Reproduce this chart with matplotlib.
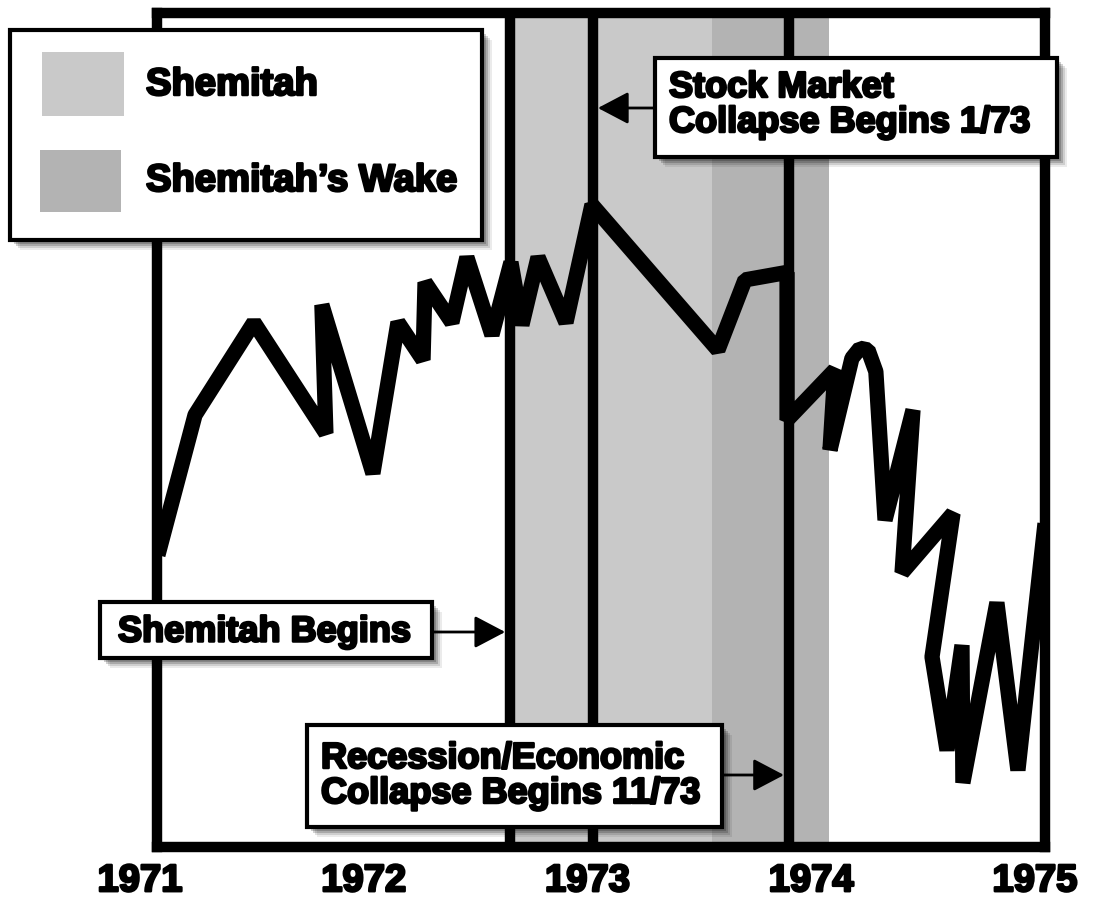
import matplotlib
matplotlib.use('Agg')
import matplotlib.pyplot as plt
import matplotlib.patheffects as pe
import matplotlib.transforms as mtransforms
from matplotlib.patches import Rectangle

# market index path (decimal year, relative level)
dates = [1971.080, 1971.246, 1971.509, 1971.831, 1971.813, 1972.041, 1972.153,
         1972.265, 1972.274, 1972.394, 1972.461, 1972.573, 1972.658, 1972.707,
         1972.779, 1972.904, 1973.020, 1973.583, 1973.704, 1973.892, 1973.892,
         1974.106, 1974.084, 1974.182, 1974.218, 1974.254, 1974.289, 1974.330,
         1974.455, 1974.406, 1974.634, 1974.540, 1974.607, 1974.674, 1974.678,
         1974.830, 1974.924, 1975.045]
level = [35.0, 51.8, 62.9, 49.6, 65.0, 44.8, 62.9,
         58.4, 67.7, 62.9, 70.7, 61.4, 70.1, 62.6,
         70.7, 62.9, 77.0, 59.6, 68.0, 68.9, 51.2,
         57.2, 47.6, 58.6, 59.8, 59.6, 57.0, 39.2,
         52.4, 32.9, 40.0, 22.8, 11.6, 24.2, 7.7,
         29.3, 9.2, 38.8]

years = [1971, 1972, 1973, 1974, 1975]
shemitah = (1972.654, 1973.556)
wake = (1973.556, 1974.079)
events = [1972.654, 1973.025, 1973.900]
legend_labels = ['Shemitah', "Shemitah\u2019s Wake"]
light = '#c9c9c9'
dark = '#b3b3b3'

W, H = 1095, 899
FONT = ['Liberation Sans', 'DejaVu Sans']
thick = [pe.withStroke(linewidth=1.8, foreground='black')]


def fx(px):
    return px / W


def fy(py):
    return 1 - py / H


def shadow_box(fig, x0, y0, x1, y1, lw=3.0):
    for k, a in [(10, 0.08), (8, 0.12), (6, 0.18), (4, 0.2)]:
        fig.patches.append(Rectangle((fx(x0 + k), fy(y1 + k)), fx(x1 - x0), (y1 - y0) / H,
                                     transform=fig.transFigure, facecolor='black',
                                     edgecolor='none', alpha=a, zorder=5))
    fig.patches.append(Rectangle((fx(x0), fy(y1)), fx(x1 - x0), (y1 - y0) / H,
                                 transform=fig.transFigure, facecolor='white',
                                 edgecolor='black', lw=lw, zorder=6))


fig = plt.figure(figsize=(W / 100, H / 100), dpi=100)
ax = fig.add_axes([fx(157), fy(847), fx(1045 - 157), (847 - 13) / H])

ax.axvspan(*shemitah, color=light, lw=0, zorder=1)
ax.axvspan(*wake, color=dark, lw=0, zorder=1)
for e in events:
    ax.axvline(e, color='black', lw=7.5, zorder=2)
ax.plot(dates, level, color='black', lw=11, solid_joinstyle='bevel',
        solid_capstyle='butt', zorder=3)

ax.set_xlim(1971.076, 1975.045)
ax.set_ylim(0, 100)
for s in ax.spines.values():
    s.set_linewidth(7.5)
ax.set_xticks([])
ax.set_yticks([])

# year labels sit a little left of the true year positions in the original
trans = mtransforms.blended_transform_factory(ax.transData, ax.transAxes)
for y in years:
    ax.text(y, -0.041, str(y), transform=trans, family=FONT, weight='bold',
            fontsize=27.5, ha='center', va='center', clip_on=False,
            path_effects=thick)

# legend
shadow_box(fig, 10, 30, 482, 240)
for (x0, y0, x1, y1), c in zip([(42, 52, 124, 116), (40, 150, 121, 212)], [light, dark]):
    fig.patches.append(Rectangle((fx(x0), fy(y1)), fx(x1 - x0), (y1 - y0) / H,
                                 transform=fig.transFigure, facecolor=c,
                                 edgecolor='none', zorder=7))
for lab, yc in zip(legend_labels, [85, 181]):
    fig.text(fx(146), fy(yc), lab, family=FONT, weight='bold', fontsize=27.5,
             va='center', ha='left', zorder=8, path_effects=thick)

# callouts: text, box, event, arrow y, arrow side, text x, text y
callouts = [
    ('Stock Market\nCollapse Begins 1/73', (655, 58, 1057, 157), events[1], 108, 'left', 669, 105),
    ('Shemitah Begins', (100, 602, 432, 658), events[0], 632, 'right', 118, 632),
    ('Recession/Economic\nCollapse Begins 11/73', (307, 725, 722, 827), events[2], 775, 'right', 321, 776),
]
for txt, (x0, y0, x1, y1), ex, ay, side, tx, ty in callouts:
    shadow_box(fig, x0, y0, x1, y1)
    fig.text(fx(tx), fy(ty), txt, family=FONT, weight='bold',
             fontsize=26, va='center', ha='left', linespacing=1.0, zorder=8,
             path_effects=thick)
    start = x0 if side == 'left' else x1
    ax.annotate('', xy=(ex, fy(ay)), xycoords=('data', 'figure fraction'),
                xytext=(fx(start), fy(ay)), textcoords='figure fraction',
                arrowprops=dict(arrowstyle='-|>,head_length=1.9,head_width=1.0',
                                color='black', lw=2, shrinkA=0, shrinkB=3.5),
                zorder=8, annotation_clip=False)

fig.savefig('out.png', dpi=100)
